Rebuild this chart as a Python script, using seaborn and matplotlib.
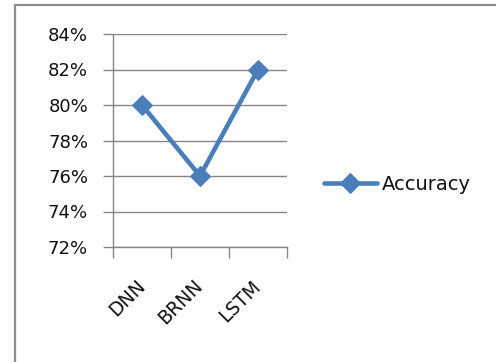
import matplotlib
matplotlib.use("Agg")
import matplotlib.pyplot as plt
import matplotlib.patches as mpatches
import matplotlib.transforms as mtransforms
from matplotlib.ticker import PercentFormatter
import seaborn as sns
import pandas as pd

models = ["DNN", "BRNN", "LSTM"]
accuracy = [80, 76, 82]
y_ticks = [72, 74, 76, 78, 80, 82, 84]

sns.set_theme(style="white")
plt.rcParams["font.family"] = ["DejaVu Sans"]

df = pd.DataFrame({"Model": models, "Accuracy": accuracy})

fig = plt.figure(figsize=(4.96, 3.62), dpi=100)
fig.patch.set_facecolor("white")

# chart frame
frame = mpatches.Rectangle((15 / 496, -0.02), 1.0, 1 - 5 / 362 + 0.02,
                           transform=fig.transFigure, fill=False,
                           edgecolor="#8c8c8c", linewidth=1.6)
fig.add_artist(frame)

ax = fig.add_axes([113 / 496, 1 - 247 / 362, 174 / 496, 213 / 362])
blue = "#4A7EBB"
text_color = "#111111"
fs = 13
sns.lineplot(data=df, x="Model", y="Accuracy", ax=ax, color=blue,
             linewidth=3.3, marker="D", markersize=10, markeredgecolor=blue,
             sort=False, label="Accuracy", legend=False)

ax.set_xlim(-0.5, 2.5)
ax.set_ylim(72, 84)
ax.set_yticks(y_ticks)
ax.yaxis.set_major_formatter(PercentFormatter(decimals=0))
ax.set_xticks([-0.5, 0.5, 1.5, 2.5], minor=False)
ax.set_xticklabels([])
ax.set_xticks([0, 1, 2], minor=True)
ax.set_xticklabels(models, minor=True, rotation=45, ha="right", va="center",
                   rotation_mode="anchor", fontsize=13.5, color=text_color)
shift = mtransforms.ScaledTranslation(6 / 100, 0, fig.dpi_scale_trans)
for lbl in ax.get_xticklabels(minor=True):
    lbl.set_transform(lbl.get_transform() + shift)
ax.tick_params(axis="x", which="minor", length=0, pad=26)
ax.tick_params(axis="x", which="major", length=8, width=1, color="#868686",
               direction="out", bottom=True)
ax.tick_params(axis="y", length=7, width=1, color="#868686", direction="out",
               left=True, labelsize=fs, labelcolor=text_color, pad=11)
ax.set_xlabel("")
ax.set_ylabel("")

ax.grid(axis="y", color="#868686", linewidth=1)
ax.grid(axis="x", visible=False)
ax.set_axisbelow(True)
for side in ["top", "right"]:
    ax.spines[side].set_visible(False)
for side in ["left", "bottom"]:
    ax.spines[side].set_color("#868686")
    ax.spines[side].set_linewidth(1)

handles, labels = ax.get_legend_handles_labels()
fig.legend(handles, labels, loc="center left",
           bbox_to_anchor=(306 / 496, 1 - 184 / 362), frameon=False,
           fontsize=14, handlelength=2.75, handletextpad=0.26,
           labelcolor=text_color)

fig.savefig("out.png", dpi=100, facecolor="white")
